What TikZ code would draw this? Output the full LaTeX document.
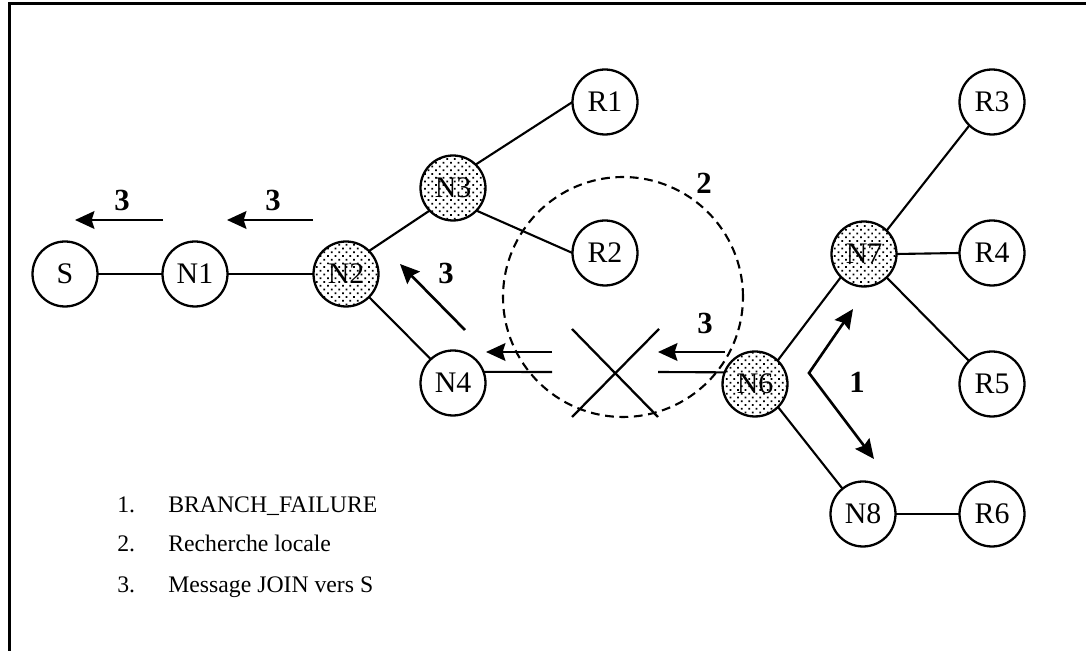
\documentclass[tikz,border=0pt]{standalone}
\usepackage{fontspec}
\setmainfont{Liberation Serif}
\usetikzlibrary{arrows.meta,patterns.meta}
\begin{document}
\begin{tikzpicture}[x=0.02cm,y=-0.02cm,
  nd/.style={circle,draw,line width=1.3pt,minimum size=1.3cm,inner sep=0pt,outer sep=0pt,font=\fontsize{17}{19}\selectfont},
  shadednd/.style={nd,pattern={Dots[radius=0.7pt,distance=3pt,angle=45]}},
  edge/.style={line width=1.2pt},
  msg/.style={line width=1.5pt,-{Stealth[length=11pt,width=10pt,inset=1.5pt]}},
  msgboth/.style={line width=1.5pt,{Stealth[length=11pt,width=10pt,inset=1.5pt]}-{Stealth[length=11pt,width=10pt,inset=1.5pt]}},
  num/.style={font=\fontsize{17.5}{19}\selectfont\bfseries,inner sep=0pt},
  legendtxt/.style={font=\fontsize{13.5}{16}\selectfont,anchor=base west,inner sep=0pt},
  zonestyle/.style={circle,draw,dash pattern=on 5pt off 3.2pt,line width=1.2pt,minimum size=4.8cm,inner sep=0pt}]

\useasboundingbox (0,0) rectangle (1086,651);
\draw[line width=1.7pt] (9.5,651) -- (9.5,4) -- (1086,4);

% nodes
\node[nd] (S) at (65,274) {S};
\node[nd] (N1) at (195,274) {N1};
\node[shadednd] (N2) at (346,274) {N2};
\node[shadednd] (N3) at (453,188) {N3};
\node[nd] (R1) at (605,102) {R1};
\node[nd] (R2) at (605,253) {R2};
\node[nd] (N4) at (453,383) {N4};
\node[shadednd] (N6) at (755,384) {N6};
\node[shadednd] (N7) at (864,254) {N7};
\node[nd] (R3) at (992,102) {R3};
\node[nd] (R4) at (992,253) {R4};
\node[nd] (R5) at (992,384) {R5};
\node[nd] (N8) at (863,514) {N8};
\node[nd] (R6) at (992,514) {R6};

% dashed zone
\node[zonestyle] (zone) at (623,297) {};

% edges
\draw[edge] (S.east) -- (N1.west);
\draw[edge] (N1.east) -- (N2.west);
\draw[edge] (N2.45) -- (N3.224);
\draw[edge] (N2.-45) -- (N4.133);
\draw[edge] (N3.46) -- (R1.180);
\draw[edge] (N3.-44) -- (R2.180);
\draw[edge] (N6.46) -- (N7.225);
\draw[edge] (N6.-45) -- (N8.129);
\draw[edge] (N7.46) -- (R3.226);
\draw[edge] (N7.0) -- (R4.180);
\draw[edge] (N7.-46) -- (R5.135);
\draw[edge] (N8.0) -- (R6.180);

% broken link
\coordinate (c0) at (552,372);
\coordinate (c1) at (658,372);
\draw[edge] (N4.20) -- (c0);
\draw[edge] (c1) -- (N6.159);
\coordinate (x1a) at (572,329);
\coordinate (x1b) at (658,417);
\coordinate (x2a) at (659,329);
\coordinate (x2b) at (572,417);
\draw[line width=1.3pt] (x1a) -- (x1b);
\draw[line width=1.3pt] (x2a) -- (x2b);

% message arrows
\coordinate (a1s) at (163,220); \coordinate (a1e) at (75,220);
\coordinate (a2s) at (313,220); \coordinate (a2e) at (227,220);
\coordinate (a3s) at (465,330); \coordinate (a3e) at (400,264);
\coordinate (a4s) at (552,352); \coordinate (a4e) at (486,352);
\coordinate (a5s) at (725,352); \coordinate (a5e) at (658,352);
\coordinate (b1) at (853,309); \coordinate (bc) at (809,373); \coordinate (b2) at (874,459);
\draw[msg] (a1s) -- (a1e);
\draw[msg] (a2s) -- (a2e);
\draw[msg] (a3s) -- (a3e);
\draw[msg] (a4s) -- (a4e);
\draw[msg] (a5s) -- (a5e);
\draw[msgboth] (b1) -- (bc) -- (b2);

% labels
\node[num] (l1) at (122,200) {3};
\node[num] (l2) at (273,200) {3};
\node[num] (l3) at (446,273) {3};
\node[num] (l4) at (705,323) {3};
\node[num] (l5) at (704,183) {2};
\node[num] (l6) at (857,382) {1};

% legend
\node[legendtxt] (g1n) at (117,513) {1.};
\node[legendtxt] (g1t) at (168,513) {BRANCH\_FAILURE};
\node[legendtxt] (g2n) at (117,552) {2.};
\node[legendtxt] (g2t) at (168,552) {Recherche locale};
\node[legendtxt] (g3n) at (117,593) {3.};
\node[legendtxt] (g3t) at (168,593) {Message JOIN vers S};
\end{tikzpicture}
\end{document}
